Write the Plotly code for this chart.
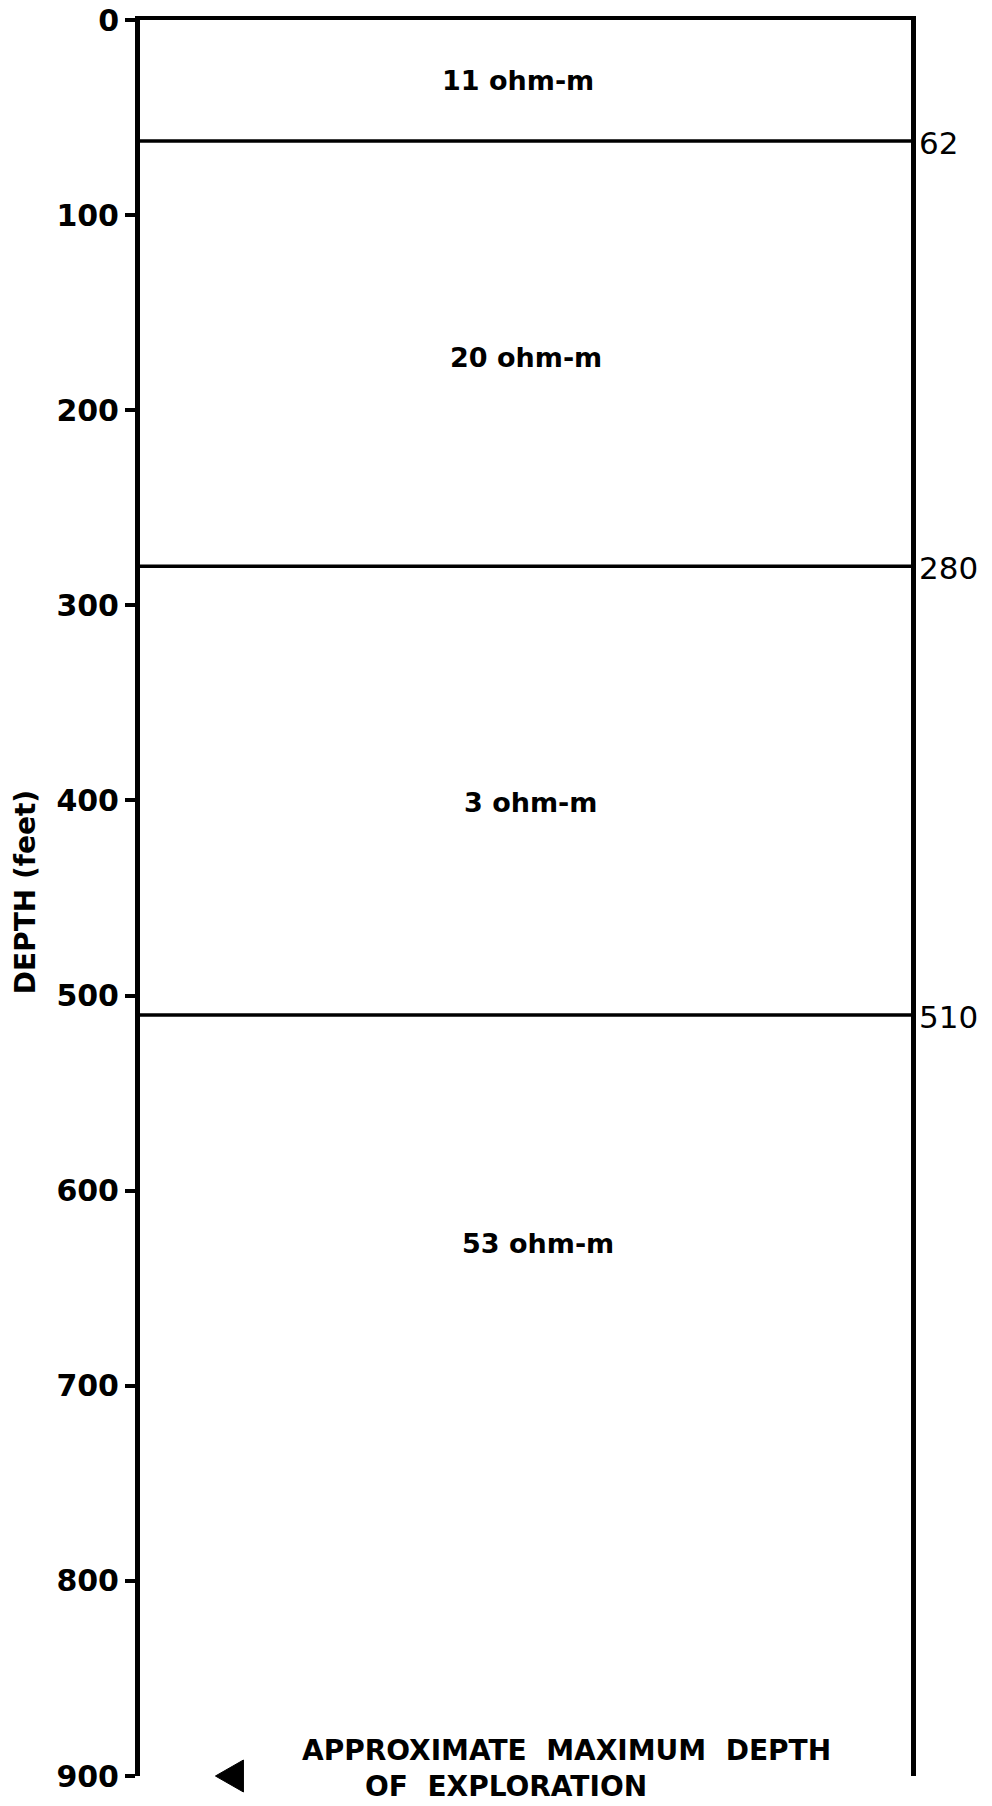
import plotly.graph_objects as go

# ---- data ----
boundary_depths = [62, 280, 510]            # layer interfaces (ft)
boundary_labels = ["62", "280", "510"]
resistivity_labels = ["11 ohm-m", "20 ohm-m", "3 ohm-m", "53 ohm-m"]
label_depths = [31, 173, 401, 627]          # depth at which each layer label sits
tick_vals = [0, 100, 200, 300, 400, 500, 600, 700, 800, 900]
tick_text = ["0", "100", "200", "300", "400", "500", "600", "700", "800", "900"]
max_depth = 900                              # approximate maximum depth of exploration

FONT = "DejaVu Sans"
fig = go.Figure()

# layer interface lines
for d in boundary_depths:
    fig.add_shape(type="line", xref="paper", x0=0, x1=1, yref="y", y0=d, y1=d,
                  line=dict(color="black", width=3.5))

# interface depth labels to the right of the column
for d, t in zip(boundary_depths, boundary_labels):
    fig.add_annotation(x=1, xref="paper", y=d, yref="y", text=t, showarrow=False,
                       xanchor="left", yanchor="middle", xshift=6, yshift=-2,
                       font=dict(family=FONT, size=31, color="black"))

# resistivity labels
label_x = [0.49, 0.50, 0.506, 0.516]
for x, d, t in zip(label_x, label_depths, resistivity_labels):
    fig.add_annotation(x=x, xref="x", y=d, yref="y", text=t, showarrow=False,
                       xanchor="center", yanchor="middle",
                       font=dict(family=FONT, size=27, color="black", weight="bold"))

# max depth marker (left-pointing triangle at the bottom of the column = max depth)
fig.add_shape(type="path", xref="x", yref="paper", xsizemode="pixel", ysizemode="pixel",
              xanchor=0.116, yanchor=0,
              path="M -14,0 L 14,16 L 14,-16 Z",
              fillcolor="black", line=dict(color="black", width=1))
fig.add_annotation(x=0.2075, xref="x", y=max_depth, yref="y",
                   text="APPROXIMATE\u00a0\u00a0MAXIMUM\u00a0\u00a0DEPTH",
                   showarrow=False, xanchor="left", yanchor="middle", yshift=26,
                   font=dict(family=FONT, size=28, color="black", weight="bold"))
fig.add_annotation(x=0.289, xref="x", y=max_depth, yref="y",
                   text="OF\u00a0\u00a0EXPLORATION",
                   showarrow=False, xanchor="left", yanchor="middle", yshift=-10,
                   font=dict(family=FONT, size=28, color="black", weight="bold"))

# axis title
fig.add_annotation(x=0, xref="paper", y=447, yref="y", text="<b>DEPTH (feet)</b>",
                   textangle=-90, showarrow=False, xanchor="center", yanchor="middle",
                   xshift=-115, font=dict(family=FONT, size=28, color="black"))

fig.update_layout(
    width=992, height=1806,
    margin=dict(l=140, r=81, t=20, b=30, autoexpand=False),
    paper_bgcolor="white", plot_bgcolor="white",
    showlegend=False,
    xaxis=dict(range=[0, 1], side="top", showline=True, linecolor="black", linewidth=4,
               showticklabels=False, ticks="", showgrid=False, zeroline=False,
               automargin=False),
    yaxis=dict(range=[max_depth, 0], tickvals=tick_vals, ticktext=tick_text,
               ticks="outside", ticklen=10, tickwidth=3.5, tickcolor="black",
               showline=True, mirror=True, linecolor="black", linewidth=5,
               showgrid=False, zeroline=False, automargin=False,
               ticklabeloverflow="allow",
               tickfont=dict(family=FONT, size=30, color="black", weight="bold")),
)

fig.write_html("out.html", config={"displayModeBar": False},
               post_script="document.body.style.margin='0';document.body.style.overflow='hidden';")
